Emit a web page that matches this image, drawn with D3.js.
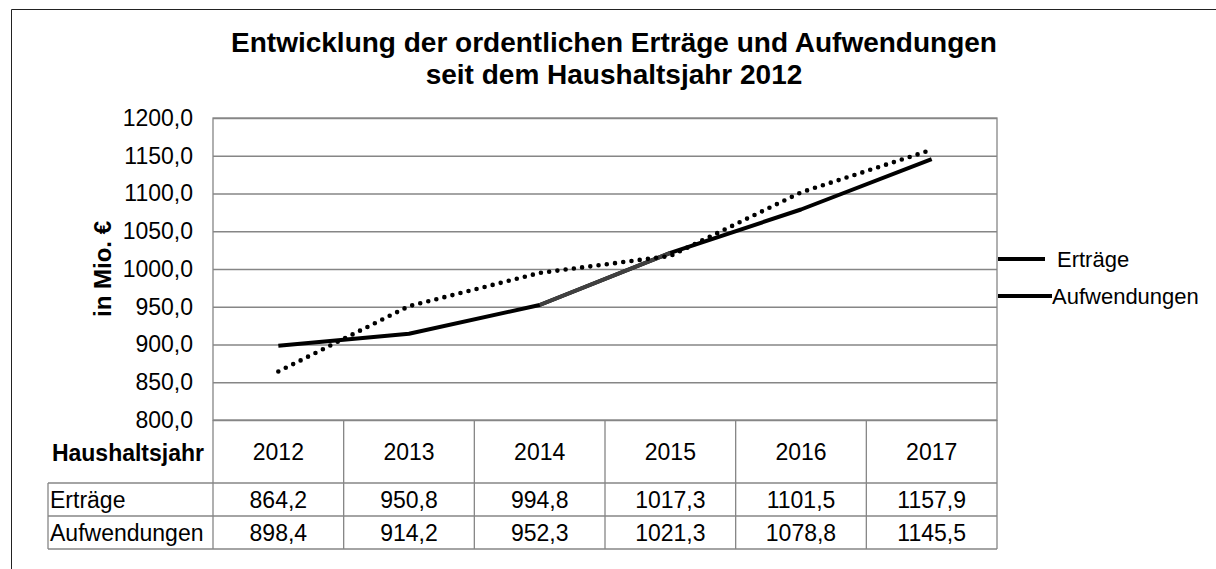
<!DOCTYPE html>
<html>
<head>
<meta charset="utf-8">
<script src="https://cdn.jsdelivr.net/npm/d3@7"></script>
<style>
  html, body { margin: 0; padding: 0; background: #fff; }
  svg { display: block; font-family: "Liberation Sans", Arial, sans-serif; }
</style>
</head>
<body>
<svg id="chart" width="1216" height="569"></svg>
<script>
// ---- data ----
const years = ["2012", "2013", "2014", "2015", "2016", "2017"];
const ertraege = [864.2, 950.8, 994.8, 1017.3, 1101.5, 1157.9];
const aufwendungen = [898.4, 914.2, 952.3, 1021.3, 1078.8, 1145.5];
const seriesNames = ["Erträge", "Aufwendungen"];
const yTicks = [800, 850, 900, 950, 1000, 1050, 1100, 1150, 1200];
const titleLines = ["Entwicklung der ordentlichen Erträge und Aufwendungen", "seit dem Haushaltsjahr 2012"];
const yLabel = "in Mio. €";
const tableHeader = "Haushaltsjahr";

// ---- layout ----
const svg = d3.select("#chart");
const plot = { left: 213, right: 997, top: 118, bottom: 420 };
const rowH = [483, 516, 549];   // bottoms of header, row 1, row 2
const tableLeft = 48;
const gridColor = "#868686";
const fontSize = 23;

const de = d3.formatLocale({ decimal: ",", thousands: ".", grouping: [3], currency: ["", " €"] });
const fmt = de.format(".1f");

const x = d3.scaleBand().domain(years).range([plot.left, plot.right]).padding(0);
const xc = d => x(d) + x.bandwidth() / 2;
const y = d3.scaleLinear().domain([800, 1200]).range([plot.bottom, plot.top]);

// outer frame
svg.append("path")
  .attr("d", `M11.5,569 L11.5,9.5 L1216,9.5`)
  .attr("fill", "none").attr("stroke", "#222").attr("stroke-width", 1);

// title
svg.append("text")
  .attr("text-anchor", "middle")
  .attr("font-weight", "bold").attr("font-size", 28)
  .selectAll("tspan").data(titleLines).join("tspan")
  .attr("x", 614).attr("y", (d, i) => 52 + i * 32)
  .text(d => d);

// y axis with gridlines
const yAxis = svg.append("g")
  .attr("transform", `translate(${plot.left},0)`)
  .call(d3.axisLeft(y).tickValues(yTicks).tickFormat(fmt)
    .tickSize(-(plot.right - plot.left)).tickPadding(20));
yAxis.select(".domain").remove();
yAxis.selectAll(".tick line").attr("stroke", gridColor).attr("stroke-width", 1.3);
yAxis.selectAll(".tick text").attr("font-size", fontSize).attr("fill", "#000")
  .attr("font-family", "Liberation Sans, Arial, sans-serif");

// plot border
svg.append("rect")
  .attr("x", plot.left).attr("y", plot.top)
  .attr("width", plot.right - plot.left).attr("height", plot.bottom - plot.top)
  .attr("fill", "none").attr("stroke", gridColor).attr("stroke-width", 1.3);

// y label
svg.append("text")
  .attr("transform", `translate(111,${(plot.top + plot.bottom) / 2}) rotate(-90)`)
  .attr("text-anchor", "middle")
  .attr("font-weight", "bold").attr("font-size", 24)
  .text(yLabel);

// ---- table ----
const tbl = svg.append("g").attr("stroke", gridColor).attr("stroke-width", 1.3);
const bounds = years.map(d => x(d)).concat([plot.right]);
tbl.selectAll("line.v").data(bounds).join("line")
  .attr("x1", d => d).attr("x2", d => d)
  .attr("y1", plot.bottom).attr("y2", rowH[2]);
tbl.selectAll("line.h").data(rowH).join("line")
  .attr("x1", tableLeft).attr("x2", plot.right)
  .attr("y1", d => d).attr("y2", d => d);
tbl.append("line").attr("x1", tableLeft).attr("x2", tableLeft)
  .attr("y1", rowH[0]).attr("y2", rowH[2]);

// year labels via axis
const xAxis = svg.append("g")
  .attr("transform", `translate(0,${plot.bottom})`)
  .call(d3.axisBottom(x).tickSize(0).tickPadding(24));
xAxis.select(".domain").remove();
xAxis.selectAll(".tick text").attr("font-size", fontSize).attr("fill", "#000")
  .attr("font-family", "Liberation Sans, Arial, sans-serif");

svg.append("text")
  .attr("x", 204).attr("y", 461)
  .attr("text-anchor", "end").attr("font-weight", "bold").attr("font-size", fontSize)
  .text(tableHeader);

const rows = [ertraege, aufwendungen];
rows.forEach((vals, r) => {
  const base = rowH[r] + 25;
  svg.append("text").attr("x", 50).attr("y", base)
    .attr("font-size", fontSize).text(seriesNames[r]);
  svg.append("g").selectAll("text").data(vals).join("text")
    .attr("x", (d, i) => xc(years[i])).attr("y", base)
    .attr("text-anchor", "middle").attr("font-size", fontSize)
    .text(d => fmt(d));
});

// ---- lines ----
const line = d3.line().x((d, i) => xc(years[i])).y(d => y(d));
svg.append("path").datum(aufwendungen)
  .attr("d", line)
  .attr("fill", "none").attr("stroke", "#000").attr("stroke-width", 4)
  .attr("stroke-linejoin", "round");
// the 2014–2015 segment appears in dark grey in the reference
const segLine = d3.line().x(d => xc(d[0])).y(d => y(d[1]));
svg.append("path")
  .datum([[years[2], aufwendungen[2]], [years[3], aufwendungen[3]]])
  .attr("d", segLine)
  .attr("fill", "none").attr("stroke", "#404040").attr("stroke-width", 4);

svg.append("path").datum(ertraege)
  .attr("d", line)
  .attr("fill", "none").attr("stroke", "#000").attr("stroke-width", 4.6)
  .attr("stroke-linecap", "round").attr("stroke-dasharray", "0 8.3");

// ---- legend ----
const legend = svg.append("g");
const legendItems = [
  { name: seriesNames[0], y: 259, x2: 1045, tx: 1057 },
  { name: seriesNames[1], y: 296, x2: 1052, tx: 1052 }
];
legend.selectAll("line").data(legendItems).join("line")
  .attr("x1", 998).attr("x2", d => d.x2)
  .attr("y1", d => d.y).attr("y2", d => d.y)
  .attr("stroke", "#000").attr("stroke-width", 4);
legend.selectAll("text").data(legendItems).join("text")
  .attr("x", d => d.tx).attr("y", d => d.y + 8)
  .attr("font-size", fontSize - 1).text(d => d.name);
</script>
</body>
</html>
